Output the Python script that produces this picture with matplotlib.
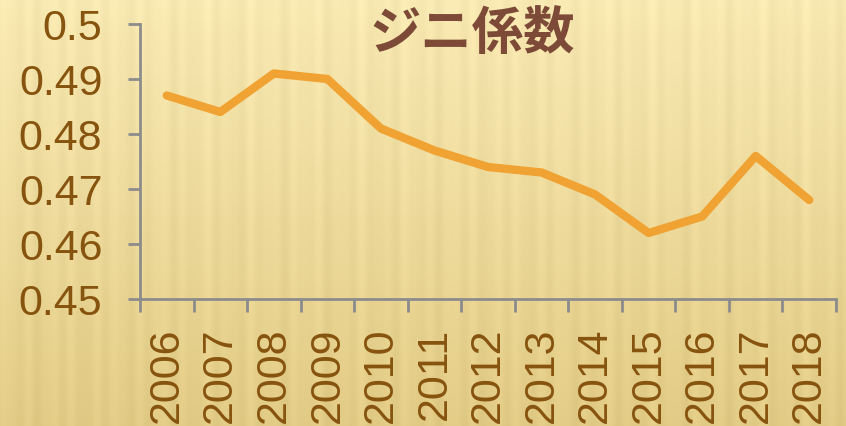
import numpy as np
import matplotlib
matplotlib.use("Agg")
import matplotlib.pyplot as plt

years = ["2006", "2007", "2008", "2009", "2010", "2011", "2012",
         "2013", "2014", "2015", "2016", "2017", "2018"]
gini = [0.487, 0.484, 0.491, 0.490, 0.481, 0.477, 0.474,
        0.473, 0.469, 0.462, 0.465, 0.476, 0.468]
yticks = [0.45, 0.46, 0.47, 0.48, 0.49, 0.5]
ytick_labels = ["0.45", "0.46", "0.47", "0.48", "0.49", "0.5"]
title = "ジニ係数"

W, H = 846, 427
fig = plt.figure(figsize=(W / 100, H / 100), dpi=100)

# background: golden gradient with soft vertical stripes
bg = fig.add_axes([0, 0, 1, 1])
xs = np.linspace(0, 1, W)
ys = np.linspace(0, 1, H)[:, None]
stripes = (0.5 * np.sin(xs * 2 * np.pi * 38) + 0.3 * np.sin(xs * 2 * np.pi * 61 + 1.3)
           + 0.2 * np.sin(xs * 2 * np.pi * 17 + 0.4))
top = np.array([0.975, 0.915, 0.70])
bot = np.array([0.885, 0.795, 0.52])
base = top[None, None, :] * (1 - ys[..., None]) + bot[None, None, :] * ys[..., None]
img = base + 0.022 * stripes[None, :, None]
img = np.clip(img, 0, 1)
bg.imshow(img, aspect="auto", extent=[0, 1, 0, 1], origin="upper")
bg.set_axis_off()

ax = fig.add_axes([140 / W, 1 - 300 / H, (836 - 140) / W, (300 - 25) / H])
ax.patch.set_alpha(0)
x = np.arange(len(years))
ax.plot(x, gini, color="#F0A232", lw=6, solid_capstyle="round", solid_joinstyle="round")
ax.set_xlim(-0.5, len(years) - 0.5)
ax.set_ylim(0.45, 0.5)
ax.set_yticks(yticks)
ax.set_yticklabels(ytick_labels)
ax.set_xticks(x)
ax.set_xticklabels(years, rotation=90, va="top")
ax.set_xticks(np.arange(len(years) + 1) - 0.5, minor=True)
ax.tick_params(axis="x", which="major", length=0, pad=20)
ax.tick_params(axis="x", which="minor", length=9, width=2, color="#8C8C8C")
ax.tick_params(axis="y", which="major", length=9, width=2, color="#8C8C8C", pad=18)
for lab in ax.get_xticklabels() + ax.get_yticklabels():
    lab.set_fontfamily(["Liberation Sans", "DejaVu Sans"])
    lab.set_fontsize(31)
    lab.set_color("#86540E")
for s in ["top", "right"]:
    ax.spines[s].set_visible(False)
for s in ["left", "bottom"]:
    ax.spines[s].set_color("#8C8C8C")
    ax.spines[s].set_linewidth(2)

fig.text(472 / W, 1 - 33 / H, title, ha="center", va="center",
         fontsize=37, fontweight="bold", color="#7D4A38",
         family=["Noto Sans CJK JP", "DejaVu Sans"])

fig.savefig("out.png", dpi=100)
